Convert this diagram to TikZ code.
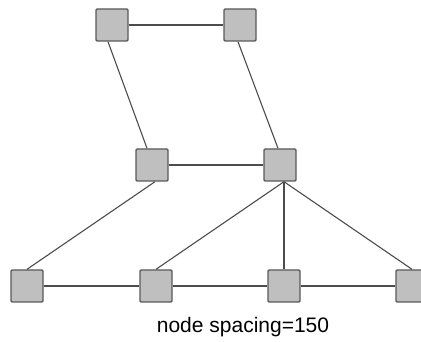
\documentclass[tikz,border=0pt]{standalone}
\usepackage{fontspec}
\setmainfont{Liberation Sans}
\usepackage{tikz}

\begin{document}
\begin{tikzpicture}[
      x=1pt, y=-1pt,
      vertex/.style={draw=black!65, fill=black!25, rectangle, rounded corners=1.2pt, minimum width=32pt, minimum height=32pt, inner sep=0pt, line width=1.4pt},
      link/.style={draw=black!70, line width=1.1pt},
      every node/.style={font=\fontsize{21}{25}\selectfont}
    ]
      \useasboundingbox (0,0) rectangle (421,342);

      \node[vertex] (t1) at (112,25) {};
      \node[vertex] (t2) at (240,25) {};
      \node[vertex] (m1) at (152,165) {};
      \node[vertex] (m2) at (280,165) {};
      \node[vertex] (b1) at (27,286) {};
      \node[vertex] (b2) at (156,286) {};
      \node[vertex] (b3) at (284,286) {};
      \node[vertex] (b4) at (412,286) {};
      \node (cap) at (243,327) {node spacing=150};

      \draw[link] (t1) -- (t2);
      \draw[link] ([xshift=-4pt]t1.south) -- ([xshift=-5pt]m1.north);
      \draw[link] ([xshift=-2pt]t2.south) -- ([xshift=-2pt]m2.north);
      \draw[link] (m1) -- (m2);
      \draw[link] ([xshift=3pt]m1.south) -- (b1.north);
      \draw[link] ([xshift=4pt]m2.south) -- (b2.north);
      \draw[link] ([xshift=4pt]m2.south) -- (b3.north);
      \draw[link] ([xshift=4pt]m2.south) -- (b4.north);
      \draw[link] (b1) -- (b2);
      \draw[link] (b2) -- (b3);
      \draw[link] (b3) -- (b4);
    \end{tikzpicture}
\end{document}
